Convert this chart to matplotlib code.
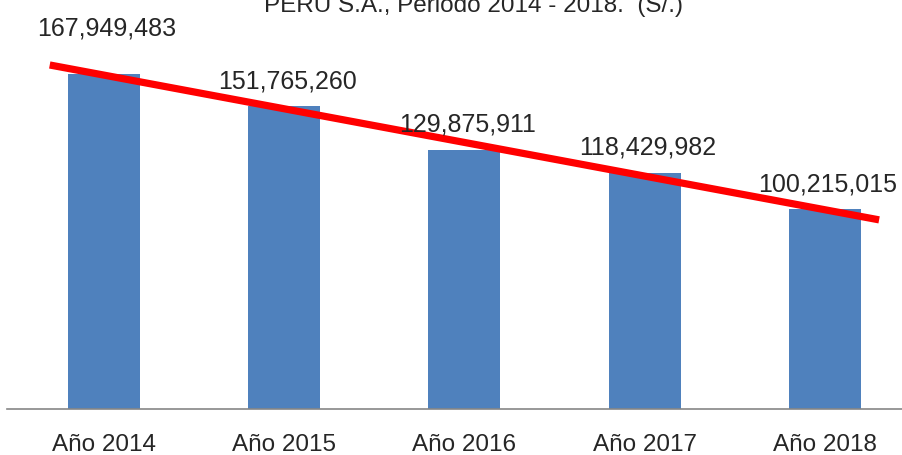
import matplotlib
matplotlib.use('Agg')
import matplotlib.pyplot as plt
import numpy as np

# datos
years = ["Año 2014", "Año 2015", "Año 2016", "Año 2017", "Año 2018"]
values = [167949483, 151765260, 129875911, 118429982, 100215015]
labels = ["167,949,483", "151,765,260", "129,875,911", "118,429,982", "100,215,015"]
title = "PERÚ S.A., Periodo 2014 - 2018.  (S/.)"

plt.rcParams['font.family'] = ['Liberation Sans', 'DejaVu Sans']

fig = plt.figure(figsize=(9.02, 4.55), dpi=100)
ax = fig.add_axes([7 / 902, 46 / 455, 895 / 902, 409 / 455])

x = np.arange(len(years))
ax.bar(x, values, width=0.4, color="#4F81BD", zorder=2)

# linea de tendencia (regresion lineal, extendida 0.3 a cada lado)
m, b = np.polyfit(x, values, 1)
xt = np.array([x[0] - 0.3, x[-1] + 0.3])
ax.plot(xt, m * xt + b, color="#FF0000", linewidth=5.2, solid_capstyle="butt", zorder=3)

# etiquetas de valores
offsets = [39, 18, 18, 18, 18]
for i in range(len(values)):
    ax.annotate(labels[i], (x[i], values[i]), xytext=(3, offsets[i]),
                textcoords="offset pixels", ha="center", va="baseline",
                fontsize=18, color="#262626", zorder=4)

ax.set_xlim(-0.537, 4.427)
ax.set_ylim(0, 205.05e6)
ax.set_xticks(x)
ax.set_xticklabels(years, fontsize=17.5, color="#262626")
ax.tick_params(axis="x", length=0, pad=18)
ax.set_yticks([])
for s in ["top", "right", "left"]:
    ax.spines[s].set_visible(False)
ax.spines["bottom"].set_color("#868686")
ax.spines["bottom"].set_linewidth(1.2)

fig.text(473 / 902, 1 - 12 / 455, title, ha="center", va="baseline",
         fontsize=17.5, color="#262626")

fig.savefig("out.png", dpi=100)
